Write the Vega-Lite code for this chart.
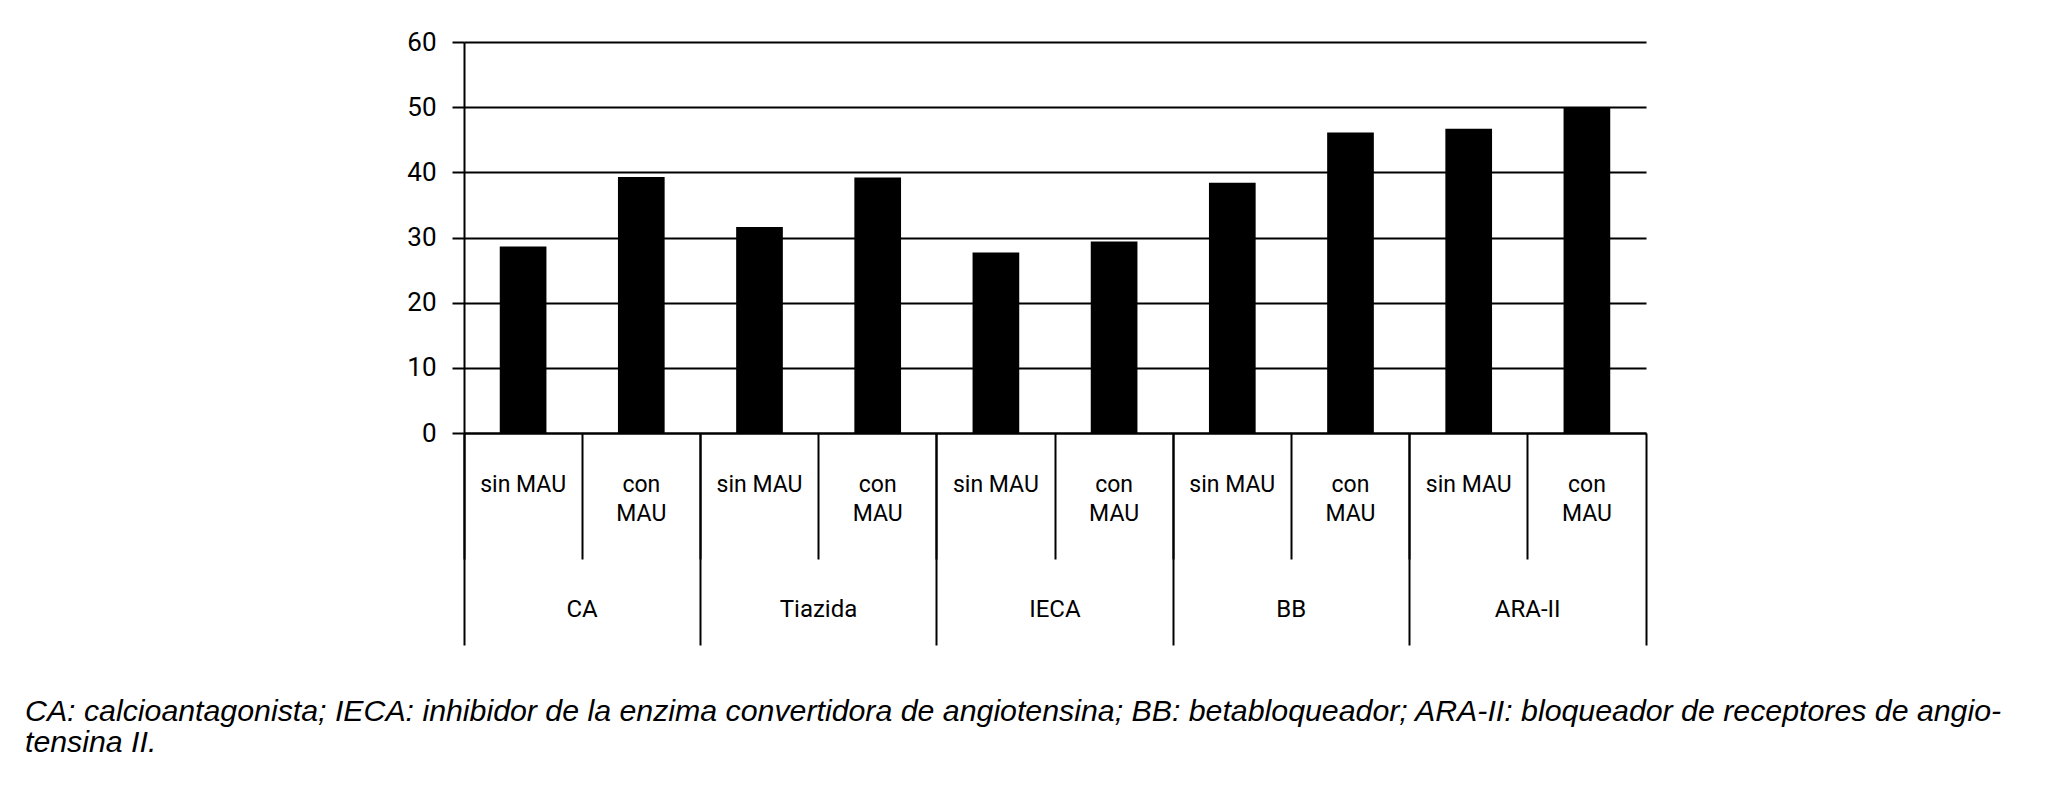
{
  "$schema": "https://vega.github.io/schema/vega-lite/v6.json",
  "width": 1182,
  "height": 391,
  "autosize": {"type": "none"},
  "padding": {"left": 464, "top": 42, "right": 404, "bottom": 358},
  "background": "white",
  "config": {"view": {"stroke": null}, "font": "Roboto"},
  "title": {
    "text": [
      "CA: calcioantagonista; IECA: inhibidor de la enzima convertidora de angiotensina; BB: betabloqueador; ARA-II: bloqueador de receptores de angio-",
      "tensina II."
    ],
    "orient": "bottom",
    "anchor": "start",
    "frame": "group",
    "font": "Liberation Sans",
    "fontSize": 30.3,
    "fontStyle": "italic",
    "fontWeight": "normal",
    "color": "black",
    "lineHeight": 31,
    "dx": -439,
    "offset": 51
  },
  "data": {
    "values": [
      {"group": "CA", "sub": "sin", "key": "CA|sin", "value": 28.6},
      {"group": "CA", "sub": "con", "key": "CA|con", "value": 39.3},
      {"group": "Tiazida", "sub": "sin", "key": "Tiazida|sin", "value": 31.6},
      {"group": "Tiazida", "sub": "con", "key": "Tiazida|con", "value": 39.2},
      {"group": "IECA", "sub": "sin", "key": "IECA|sin", "value": 27.7},
      {"group": "IECA", "sub": "con", "key": "IECA|con", "value": 29.4},
      {"group": "BB", "sub": "sin", "key": "BB|sin", "value": 38.4},
      {"group": "BB", "sub": "con", "key": "BB|con", "value": 46.1},
      {"group": "ARA-II", "sub": "sin", "key": "ARA-II|sin", "value": 46.7},
      {"group": "ARA-II", "sub": "con", "key": "ARA-II|con", "value": 50.0}
    ]
  },
  "encoding": {
    "x": {
      "field": "key",
      "type": "nominal",
      "sort": ["CA|sin", "CA|con", "Tiazida|sin", "Tiazida|con", "IECA|sin", "IECA|con", "BB|sin", "BB|con", "ARA-II|sin", "ARA-II|con"],
      "scale": {"paddingInner": 0, "paddingOuter": 0}
    },
    "y": {
      "field": "value",
      "type": "quantitative",
      "scale": {"domain": [0, 60], "nice": false, "zero": true}
    }
  },
  "resolve": {"axis": {"x": "independent"}},
  "layer": [
    {
      "mark": {"type": "bar", "color": "black", "width": {"band": 0.395}},
      "encoding": {
        "x": {
          "field": "key",
          "type": "nominal",
          "sort": ["CA|sin", "CA|con", "Tiazida|sin", "Tiazida|con", "IECA|sin", "IECA|con", "BB|sin", "BB|con", "ARA-II|sin", "ARA-II|con"],
          "axis": {
            "title": null,
            "orient": "bottom",
            "domain": true,
            "domainColor": "black",
            "domainWidth": 2,
            "ticks": true,
            "bandPosition": 0,
            "tickSize": 126,
            "tickColor": "black",
            "tickWidth": 2,
            "grid": false,
            "labelExpr": "indexof(datum.value, '|sin') >= 0 ? 'sin MAU' : ['con', 'MAU']",
            "labelAngle": 0,
            "labelAlign": "center",
            "labelBaseline": "top",
            "labelFontSize": 23,
            "labelColor": "black",
            "labelPadding": -86,
            "labelLineHeight": 29,
            "labelOverlap": false,
            "labelBound": false,
            "labelFlush": false
          }
        },
        "y": {
          "field": "value",
          "type": "quantitative",
          "axis": {
            "title": null,
            "values": [0, 10, 20, 30, 40, 50, 60],
            "grid": true,
            "gridColor": "black",
            "gridWidth": 2,
            "gridOpacity": 1,
            "domain": true,
            "domainColor": "black",
            "domainWidth": 2,
            "ticks": true,
            "tickSize": 12,
            "tickColor": "black",
            "tickWidth": 2,
            "labelFontSize": 26,
            "labelColor": "black",
            "labelPadding": 16
          }
        }
      }
    },
    {
      "mark": {"type": "point", "opacity": 0},
      "encoding": {
        "x": {
          "field": "key",
          "type": "nominal",
          "sort": ["CA|sin", "CA|con", "Tiazida|sin", "Tiazida|con", "IECA|sin", "IECA|con", "BB|sin", "BB|con", "ARA-II|sin", "ARA-II|con"],
          "axis": {
            "title": null,
            "orient": "bottom",
            "values": ["CA|sin", "Tiazida|sin", "IECA|sin", "BB|sin", "ARA-II|sin"],
            "domain": false,
            "ticks": true,
            "bandPosition": 0,
            "tickSize": 212,
            "tickColor": "black",
            "tickWidth": 2,
            "grid": false,
            "labelExpr": "split(datum.value, '|')[0]",
            "labelAngle": 0,
            "labelAlign": "center",
            "labelBaseline": "top",
            "labelFontSize": 24,
            "labelColor": "black",
            "labelPadding": -48,
            "labelOffset": 59,
            "labelOverlap": false,
            "labelBound": false,
            "labelFlush": false
          }
        }
      }
    },
    {
      "mark": {"type": "point", "opacity": 0},
      "encoding": {
        "x": {
          "field": "key",
          "type": "nominal",
          "sort": ["CA|sin", "CA|con", "Tiazida|sin", "Tiazida|con", "IECA|sin", "IECA|con", "BB|sin", "BB|con", "ARA-II|sin", "ARA-II|con"],
          "axis": {
            "title": null,
            "orient": "bottom",
            "values": ["ARA-II|con"],
            "domain": false,
            "ticks": true,
            "bandPosition": 1,
            "tickSize": 212,
            "tickColor": "black",
            "tickWidth": 2,
            "grid": false,
            "labels": false
          }
        }
      }
    }
  ]
}
